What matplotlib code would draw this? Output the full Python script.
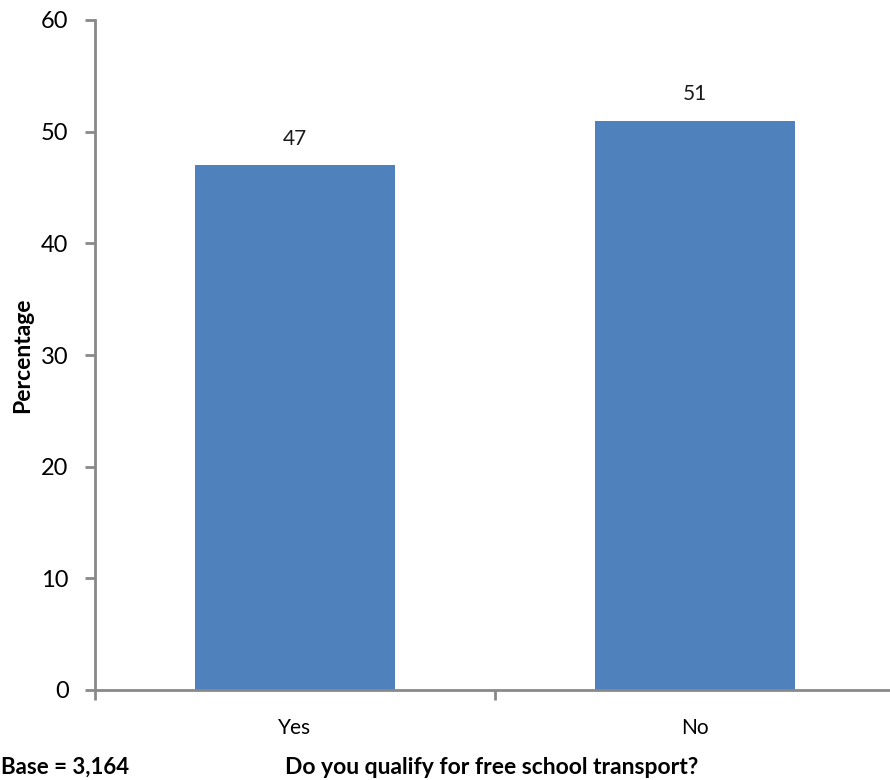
import matplotlib

matplotlib.use("Agg")
import matplotlib.pyplot as plt

categories = ["Yes", "No"]
values = [47, 51]
value_labels = ["47", "51"]
yticks = [0, 10, 20, 30, 40, 50, 60]

BAR = "#4F81BD"
AXIS = "#898989"

plt.rcParams["font.family"] = ["Lato", "DejaVu Sans"]

fig = plt.figure(figsize=(8.9, 7.8), dpi=100)
# axis spans 95..895 px horizontally, so it runs off the right edge
ax = fig.add_axes([95 / 890, 90 / 780, 800 / 890, 670 / 780])

x = list(range(len(categories)))
ax.bar(x, values, width=0.5, color=BAR, zorder=2)
for xi, v, lab in zip(x, values, value_labels):
    ax.annotate(lab, (xi, v), xytext=(0, 12), textcoords="offset points",
                ha="center", va="bottom", fontsize=15, color="#1a1a1a")

ax.set_xlim(-0.5, 1.5)
ax.set_ylim(0, 60)
ax.set_yticks(yticks)
ax.set_xticks([-0.5, 0.5, 1.5])
ax.set_xticklabels([])
ax.set_xticks(x, minor=True)
ax.set_xticklabels(categories, minor=True)
ax.tick_params(axis="x", which="minor", length=0, pad=20, labelsize=15)
ax.tick_params(axis="x", which="major", length=7, width=2, color=AXIS, direction="out")
ax.tick_params(axis="y", length=7, width=2, color=AXIS, direction="out",
               labelsize=17, pad=12)

for s in ("top", "right"):
    ax.spines[s].set_visible(False)
for s in ("left", "bottom"):
    ax.spines[s].set_color(AXIS)
    ax.spines[s].set_linewidth(2)

fig.text(23 / 890, 1 - 355 / 780, "Percentage", rotation=90, ha="center",
         va="center", fontsize=16.5, fontweight="bold")
fig.text(1 / 890, 1 - 767 / 780, "Base = 3,164", ha="left", va="center",
         fontsize=16, fontweight="bold")
fig.text(492 / 890, 1 - 767 / 780, "Do you qualify for free school transport?",
         ha="center", va="center", fontsize=16.5, fontweight="bold")

fig.savefig("out.png", dpi=100)
